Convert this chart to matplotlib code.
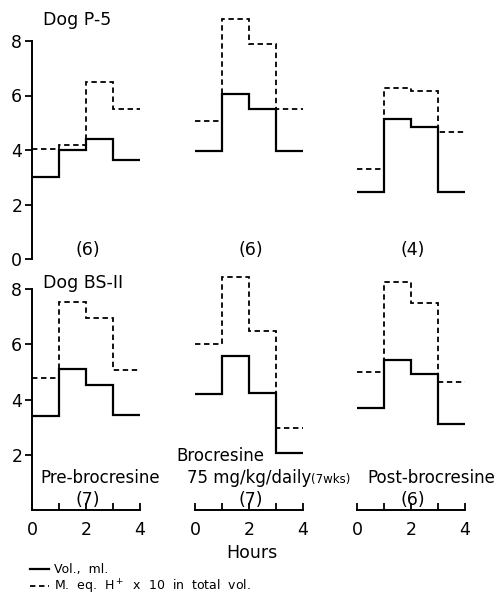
import matplotlib.pyplot as plt
import numpy as np

plt.rcParams['font.family'] = ['DejaVu Sans']

# hourly periods
hours = [0, 1, 2, 3, 4]

# Dog P-5 (top row): pre, brocresine, post
top_vol = [[3.0, 4.0, 4.4, 3.65], [3.95, 6.05, 5.5, 3.95], [2.45, 5.15, 4.85, 2.45]]
top_acid = [[4.05, 4.2, 6.5, 5.5], [5.07, 8.8, 7.9, 5.5], [3.3, 6.27, 6.17, 4.67]]
top_n = ["(6)", "(6)", "(4)"]

# Dog BS-II (bottom row)
bot_vol = [[3.42, 5.1, 4.52, 3.43], [4.19, 5.59, 4.25, 2.05], [3.68, 5.43, 4.92, 3.12]]
bot_acid = [[4.8, 7.55, 6.97, 5.06], [6.0, 8.45, 6.49, 2.96], [4.99, 8.25, 7.51, 4.65]]
bot_n = ["(7)", "(7)", "(6)"]

W, H = 498, 598
fig = plt.figure(figsize=(W / 100, H / 100), dpi=100)

col_left = [32, 195, 357]   # pixel x of hour 0
col_w = 108
top_y0, top_h = 259, 245.25
bot_y0, bot_h = 510, 248.4

def make_ax(x0, y0, h):
    return fig.add_axes([x0 / W, 1 - y0 / H, col_w / W, h / H])

solid_kw = dict(color='black', lw=1.6, baseline=None)
dash_kw = dict(color='black', lw=1.3, linestyle=(0, (3, 2)), baseline=None)

top_axes, bot_axes = [], []
for i in range(3):
    ax = make_ax(col_left[i], top_y0, top_h)
    ax.stairs(top_acid[i], hours, **dash_kw)
    ax.stairs(top_vol[i], hours, **solid_kw)
    ax.set_xlim(0, 4)
    ax.set_ylim(0, 9)
    ax.text(2.05, 0.33, top_n[i], ha='center', va='center', fontsize=12.5)
    top_axes.append(ax)

    ax = make_ax(col_left[i], bot_y0, bot_h)
    hv = ax.stairs(bot_vol[i], hours, **solid_kw)
    ha = ax.stairs(bot_acid[i], hours, **dash_kw)
    ax.set_xlim(0, 4)
    ax.set_ylim(0, 9)
    ax.text(2.05, 0.36, bot_n[i], ha='center', va='center', fontsize=12.5)
    bot_axes.append(ax)

for ax in top_axes + bot_axes:
    for s in ['top', 'right']:
        ax.spines[s].set_visible(False)
    ax.patch.set_visible(False)

# top row: only y axis on the first
for j, ax in enumerate(top_axes):
    ax.spines['bottom'].set_visible(False)
    ax.set_xticks([])
    if j == 0:
        ax.spines['left'].set_bounds(0, 8)
        ax.spines['left'].set_linewidth(1.4)
        ax.set_yticks([0, 2, 4, 6, 8])
        ax.tick_params(axis='y', direction='out', length=5, width=1.3, labelsize=12.5, pad=2)
    else:
        ax.spines['left'].set_visible(False)
        ax.set_yticks([])

# bottom row: y axis on first, x axis on all
for j, ax in enumerate(bot_axes):
    ax.spines['bottom'].set_linewidth(1.4)
    ax.set_xticks([0, 2, 4])
    ax.set_xticks([1, 3], minor=True)
    ax.tick_params(axis='x', which='both', direction='in', length=5, width=1.3, labelsize=12.5, pad=8)
    if j == 0:
        ax.spines['left'].set_bounds(0, 8)
        ax.spines['left'].set_linewidth(1.4)
        ax.set_yticks([2, 4, 6, 8])
        ax.tick_params(axis='y', direction='out', length=5, width=1.3, labelsize=12.5, pad=2)
    else:
        ax.spines['left'].set_visible(False)
        ax.set_yticks([])

top_axes[0].text(0.41, 8.77, "Dog P-5", ha='left', va='center', fontsize=12.5)
bot_axes[0].text(0.41, 8.22, "Dog BS-II", ha='left', va='center', fontsize=12.5)

bot_axes[0].text(2.54, 1.16, "Pre-brocresine", ha='center', va='center', fontsize=12)
bot_axes[1].text(0.93, 1.96, "Brocresine", ha='center', va='center', fontsize=12)
t = bot_axes[1].text(-0.3, 1.16, "75 mg/kg/daily", ha='left', va='center', fontsize=12)
bot_axes[1].annotate("(7wks)", xy=(1, 0.08), xycoords=t, ha='left', va='bottom', fontsize=8.5)
bot_axes[2].text(2.74, 1.16, "Post-brocresine", ha='center', va='center', fontsize=12)

fig.text(252 / W, 1 - 553 / H, "Hours", ha='center', va='center', fontsize=12.5)

fig.legend(handles=[hv, ha],
           labels=["Vol.,  ml.", r"M.  eq.  H$^+$  x  10  in  total  vol."],
           loc='upper left', bbox_to_anchor=(30 / W, 1 - 563 / H),
           frameon=False, fontsize=9, handlelength=1.5, handletextpad=0.4,
           labelspacing=0.1, borderpad=0, borderaxespad=0)

fig.savefig("out.png", dpi=100)
